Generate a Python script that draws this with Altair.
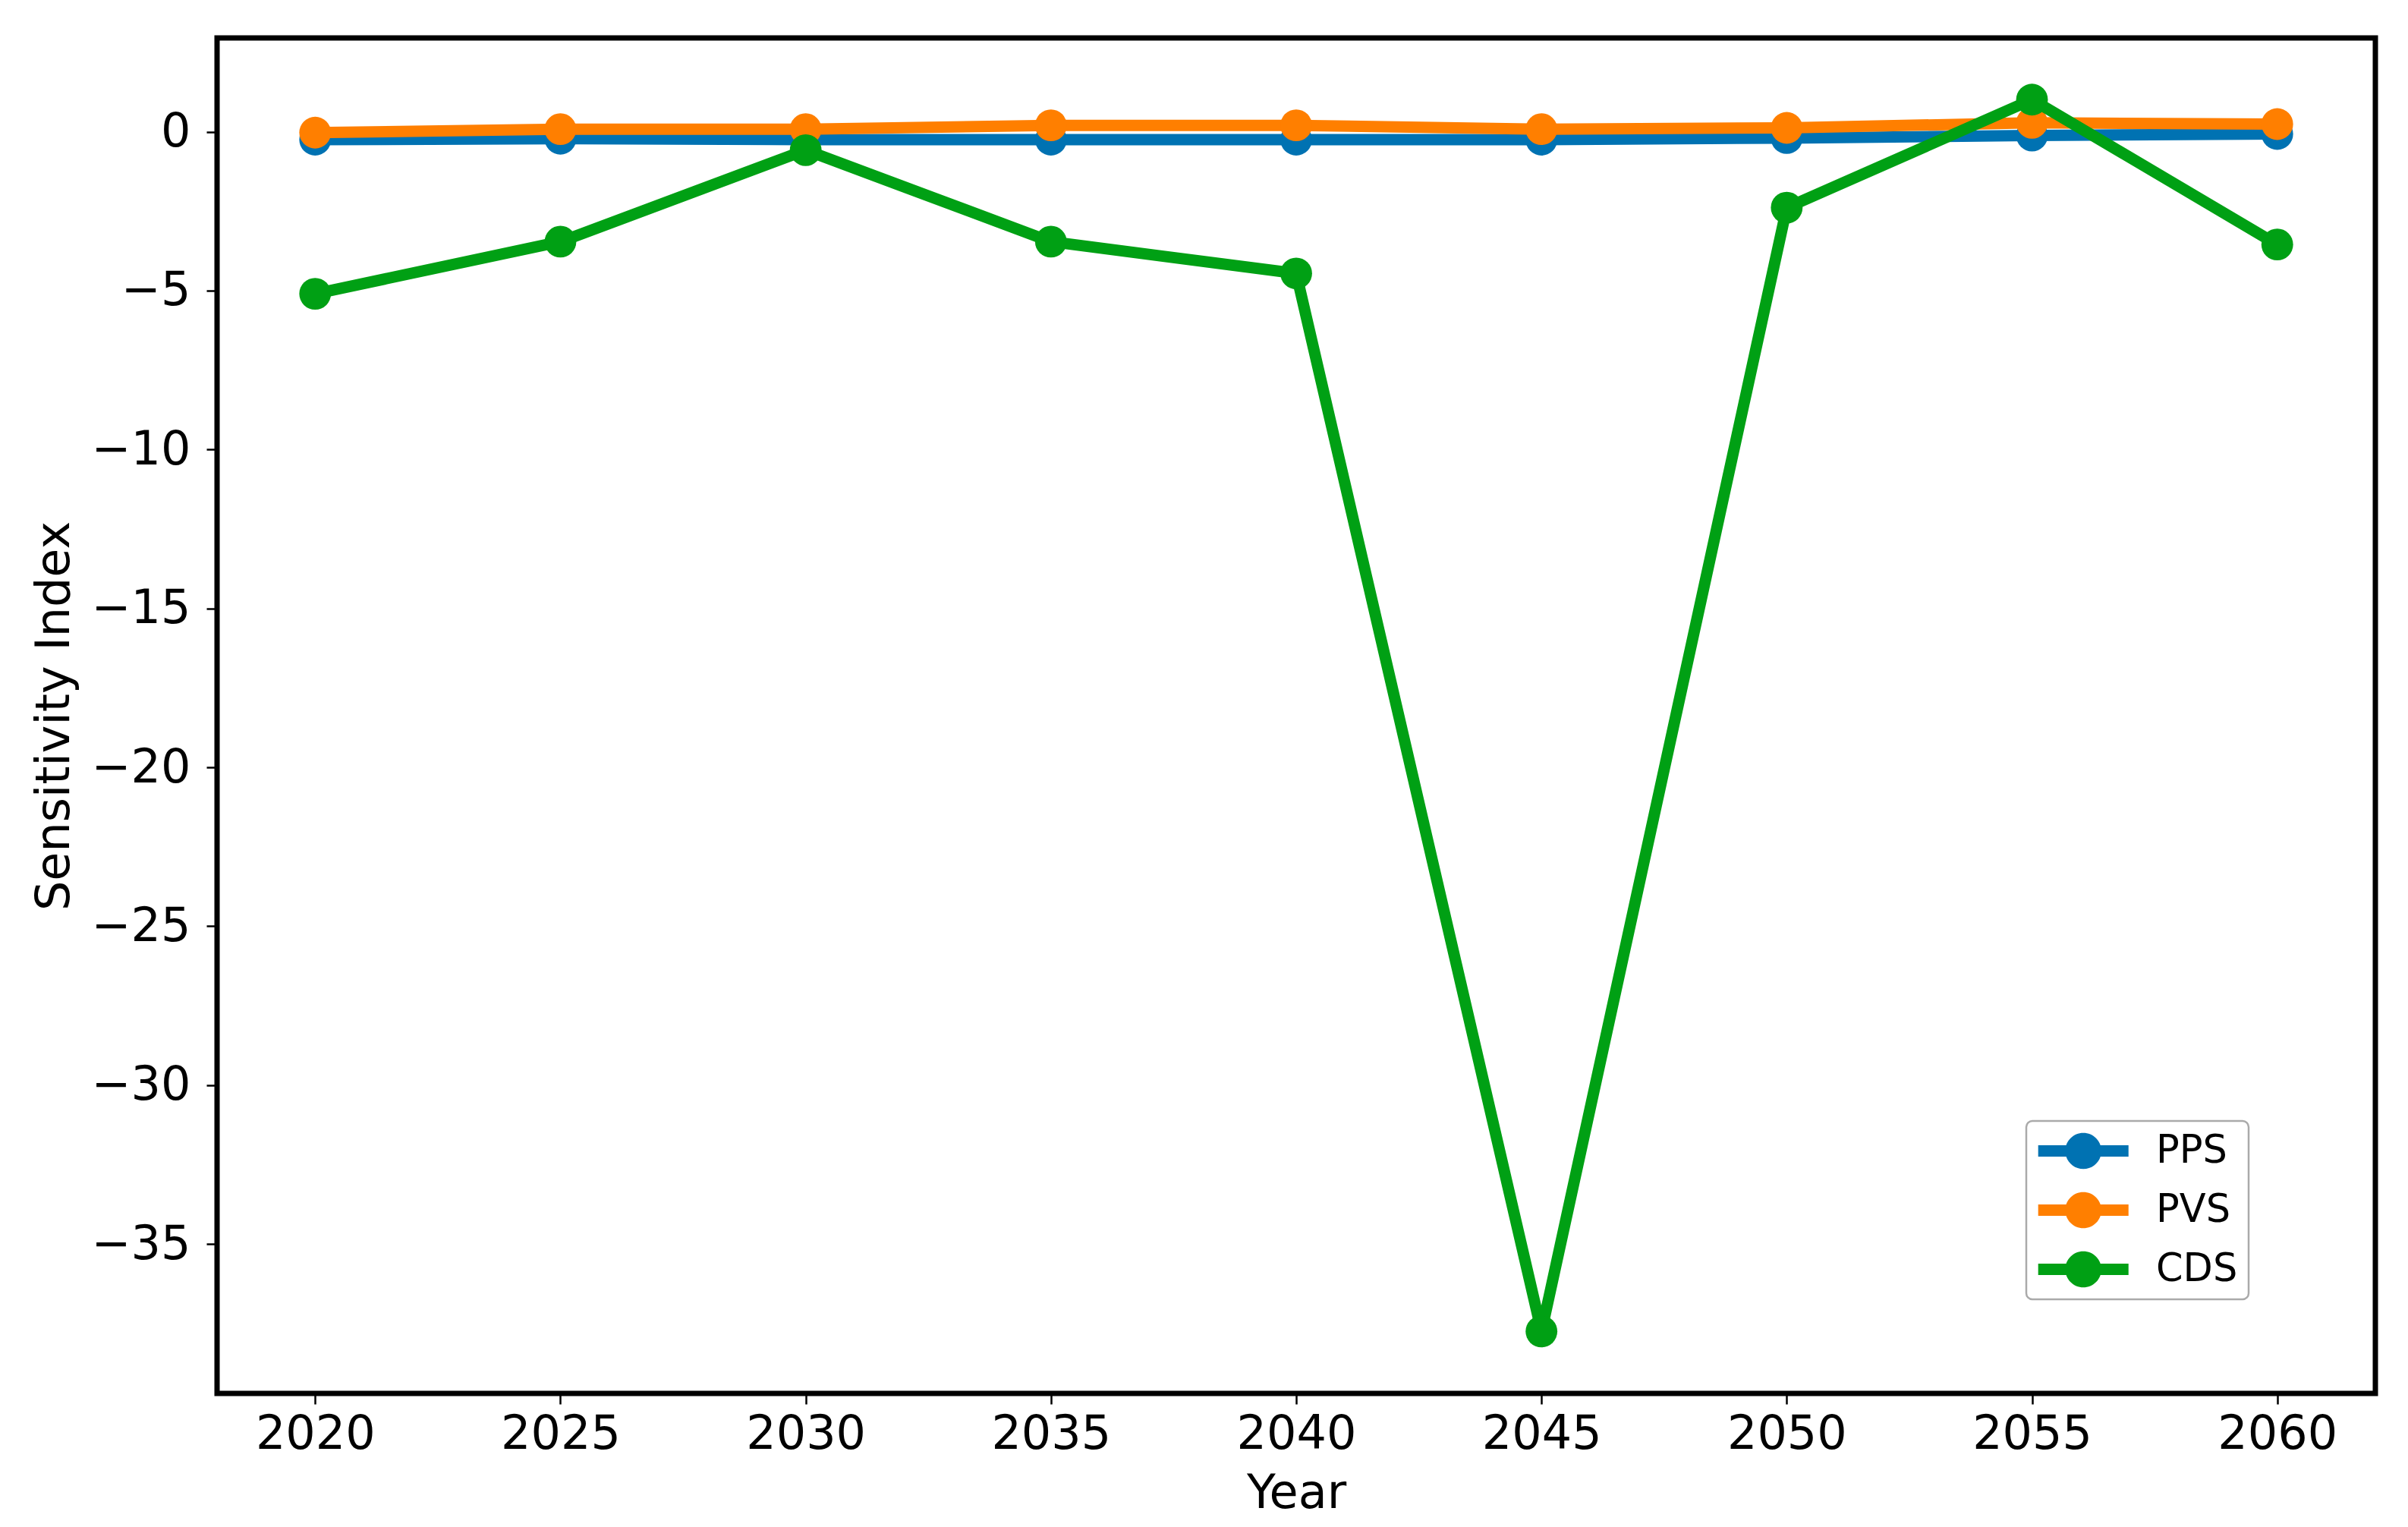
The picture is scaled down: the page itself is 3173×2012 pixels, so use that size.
import altair as alt
import pandas as pd

years = [2020, 2025, 2030, 2035, 2040, 2045, 2050, 2055, 2060]
pps = [-0.25, -0.22, -0.25, -0.25, -0.25, -0.25, -0.2, -0.12, -0.07]
pvs = [-0.03, 0.08, 0.08, 0.2, 0.2, 0.08, 0.12, 0.28, 0.24]
cds = [-5.1, -3.46, -0.58, -3.46, -4.46, -37.75, -2.39, 1.01, -3.55]

series_names = ["PPS", "PVS", "CDS"]
series_colors = ["#0072B2", "#FF7F00", "#00A014"]
x_ticks = [2020, 2025, 2030, 2035, 2040, 2045, 2050, 2055, 2060]
y_ticks = [0, -5, -10, -15, -20, -25, -30, -35]

rows = []
for name, vals in zip(series_names, [pps, pvs, cds]):
    for yr, v in zip(years, vals):
        rows.append({"Year": yr, "Value": v, "Series": name})
df = pd.DataFrame(rows)

FONT = "DejaVu Sans"

x_enc = alt.X("Year:Q", scale=alt.Scale(domain=[2018, 2062], nice=False, zero=False),
              axis=alt.Axis(values=x_ticks, format="d", title="Year"))
y_enc = alt.Y("Value:Q", scale=alt.Scale(domain=[-39.7, 2.95], nice=False, zero=False),
              axis=alt.Axis(values=y_ticks, format="d", title="Sensitivity Index",
                            labelPadding=21))

legend_path = ("M-1,-0.32 L4,-0.32 L4,0.32 L-1,0.32 Z "
               "M2.5,0 A1,1 0 1,1 0.5,0 A1,1 0 1,1 2.5,0 Z")

fill_scale = alt.Scale(domain=series_names, range=series_colors)
legend = alt.Legend(
    orient="none", legendX=2384, legendY=1427,
    title=None, symbolType=legend_path, symbolSize=2266,
    symbolStrokeWidth=0, symbolOpacity=1,
    labelFontSize=51, labelFont=FONT, labelColor="black",
    padding=14, rowPadding=26, labelOffset=106,
    strokeColor="#aaaaaa", cornerRadius=8, fillColor="white",
)

layers = []
for name, col in zip(series_names, series_colors):
    base = alt.Chart(df).transform_filter(alt.datum.Series == name)
    line = base.mark_line(strokeWidth=15, strokeJoin="round", color=col).encode(
        x=x_enc, y=y_enc,
    )
    pts = base.mark_circle(size=1750, opacity=1).encode(
        x=x_enc, y=y_enc,
        fill=alt.Fill("Series:N", scale=fill_scale, legend=legend),
    )
    layers.append(line)
    layers.append(pts)

chart = alt.layer(*layers).properties(
    width=2844, height=1786,
    autosize=alt.AutoSizeParams(type="none"),
    padding={"left": 278, "top": 42, "right": 20, "bottom": 170},
    background="white",
).configure_view(
    stroke="black", strokeWidth=7
).configure_legend(
    strokeWidth=2.5
).configure_axis(
    domain=False, grid=False,
    labelFont=FONT, labelFontSize=62, labelColor="black",
    titleFont=FONT, titleFontSize=62, titleFontWeight="normal", titleColor="black",
    tickColor="black", tickSize=14, tickWidth=2.5,
    labelPadding=9, titlePadding=17,
)

chart.save("out.html", embed_options={"renderer": "svg", "actions": False})
